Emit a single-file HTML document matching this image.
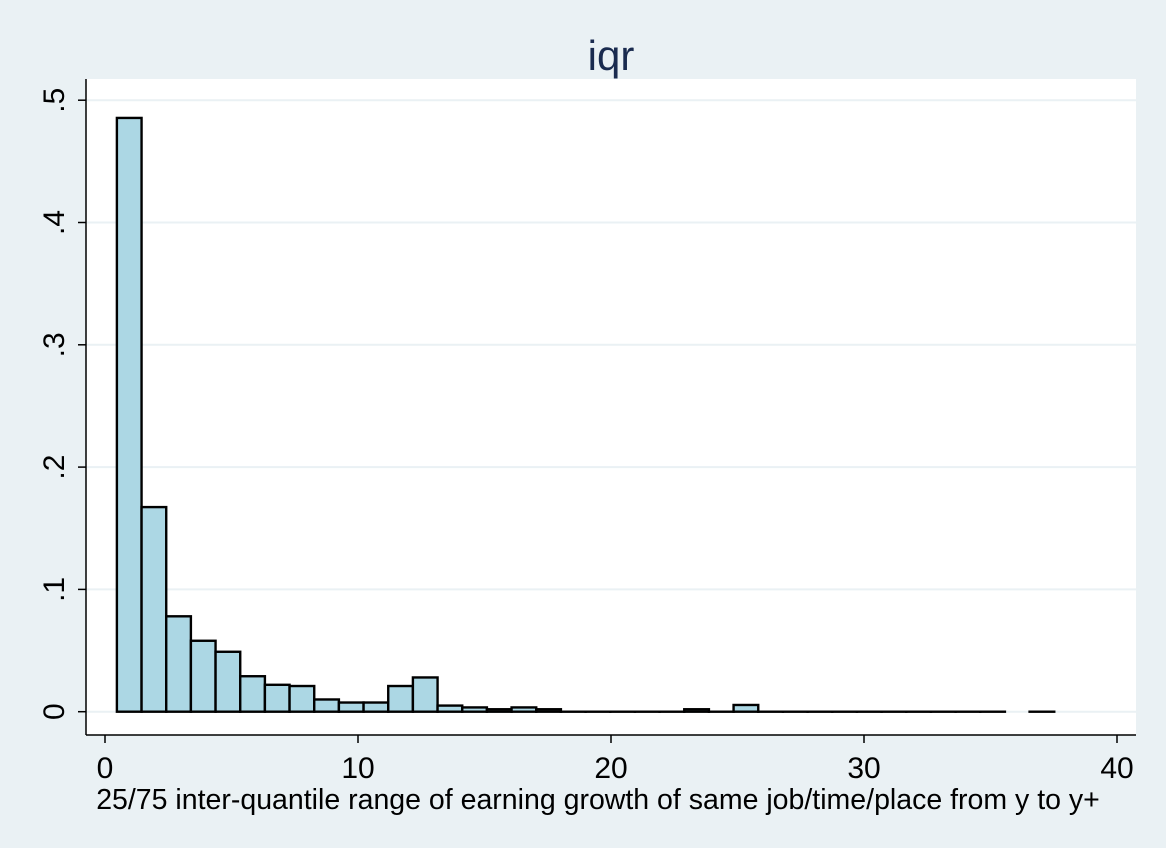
<!DOCTYPE html>
<html><head><meta charset="utf-8"><style>
html,body{margin:0;padding:0;background:#eaf1f4;}
svg{display:block;font-family:"Liberation Sans",Arial,sans-serif;}
</style></head><body>
<svg id="chart" width="1166" height="848">
<rect x="0" y="0" width="1166" height="848" fill="#eaf1f4"/>
<rect x="86" y="79" width="1050" height="656" fill="#ffffff"/>
<text x="611" y="70" text-anchor="middle" font-size="42" fill="#1a2b4f">iqr</text>
<g id="grid"></g>
<g id="bars"></g>
<g id="axes"></g>
<text x="598" y="809" text-anchor="middle" font-size="28.5" fill="#000">25/75 inter-quantile range of earning growth of same job/time/place from y to y+</text>
</svg>
<script>
const binStart = 0.47;
const binWidth = 0.975;
const densities = [0.4855,0.1673,0.078,0.058,0.049,0.029,0.022,0.021,0.010,0.0075,0.0075,0.021,0.028,0.005,0.0035,0.002,0.0035,0.002,0,0,0,0,0,0.002,0,0.0055,0,0,0,0,0,0,0,0,0,0,null,0];
const yTicks = [0,0.1,0.2,0.3,0.4,0.5];
const yTickLabels = ["0",".1",".2",".3",".4",".5"];
const xTicks = [0,10,20,30,40];
const xTickLabels = ["0","10","20","30","40"];

const NS="http://www.w3.org/2000/svg";
function xs(v){return 105+v*25.3;}
function ys(v){return 711.7-v*1223;}
function mk(tag,attrs,parent){const e=document.createElementNS(NS,tag);for(const k in attrs)e.setAttribute(k,attrs[k]);parent.appendChild(e);return e;}
const grid=document.getElementById('grid'),bars=document.getElementById('bars'),axes=document.getElementById('axes');

yTicks.forEach((t,i)=>{
  const g=mk('line',{x1:86,x2:1136,y1:ys(t),y2:ys(t),stroke:'#eaf1f4','stroke-width':2},grid);
  
  
  const tk=mk('line',{x1:78,x2:86,y1:ys(t),y2:ys(t),stroke:'#000','stroke-width':1.5},axes);
  
  
  const lb=mk('text',{x:0,y:0,transform:`translate(64,${ys(t)}) rotate(-90)`,'text-anchor':'middle','font-size':30,fill:'#000'},axes);
  lb.textContent=yTickLabels[i];
  
  
});
xTicks.forEach((t,i)=>{
  const tk=mk('line',{x1:xs(t),x2:xs(t),y1:735,y2:743,stroke:'#000','stroke-width':1.5},axes);
  
  
  const lb=mk('text',{x:xs(t),y:778,'text-anchor':'middle','font-size':30,fill:'#000'},axes);
  lb.textContent=xTickLabels[i];
  
  
});
densities.forEach((d,i)=>{
  if(d===null)return;
  const x0=xs(binStart+i*binWidth),x1=xs(binStart+(i+1)*binWidth);
  const y=ys(d),h=ys(0)-y;
  const r=mk('rect',{x:x0,y:y,width:x1-x0,height:Math.max(h,0.01),fill:'#acd7e4',stroke:'#000','stroke-width':2.4},bars);
  
  
});
const ya=mk('line',{x1:86,x2:86,y1:79,y2:735,stroke:'#000','stroke-width':1.5},axes);


const xa=mk('line',{x1:86,x2:1136,y1:735,y2:735,stroke:'#000','stroke-width':1.5},axes);


</script>
</body></html>
